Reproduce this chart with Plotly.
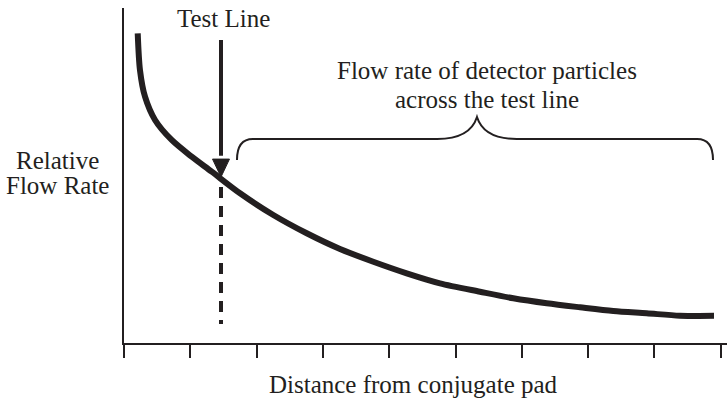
import plotly.graph_objects as go

# ── Données ────────────────────────────────────────────────────────────────────
# distance (unités de graduation) / débit relatif (0-100)
distance = [0.207, 0.241, 0.317, 0.468, 0.719, 1.021, 1.323, 1.750,
            2.252, 2.756, 3.258, 3.760, 4.264, 4.766, 5.370, 5.872, 6.376,
            6.878, 7.380, 7.884, 8.386, 8.899]
flow_rate = [92.45, 81.49, 73.52, 66.57, 60.60, 55.61, 51.13, 44.69,
             38.21, 32.75, 28.06, 24.27, 20.81, 17.82, 15.31, 13.34, 11.85,
             10.66, 9.55, 8.87, 8.15, 8.1]
tick_positions = list(range(10))

TEST_LINE_X = 1.463
ARROW_TOP, ARROW_BASE, ARROW_TIP = 90.45, 54.9, 49.55
DASH_BOTTOM = 5.67

# accolade : x gauche, x centre, x droite / y bas, y haut, y pointe
BRACE_X = [1.704, 5.324, 8.884]
BRACE_Y = [54.63, 60.9, 67.46]

INK = "#231f20"
FONT = "Liberation Serif, Times New Roman, serif"

fig = go.Figure()

# ── Courbe principale ──────────────────────────────────────────────────────────
fig.add_trace(go.Scatter(
    x=distance, y=flow_rate, mode="lines",
    line=dict(color=INK, width=6, shape="spline", smoothing=0.8),
    hoverinfo="skip", showlegend=False,
))

# ── Ligne de test : flèche + pointillés ────────────────────────────────────────
fig.add_shape(type="line", xref="x", yref="y",
              x0=TEST_LINE_X, x1=TEST_LINE_X, y0=ARROW_TOP, y1=ARROW_BASE + 1,
              line=dict(color=INK, width=4))
hw = 0.128
fig.add_shape(type="path", xref="x", yref="y",
              path=(f"M {TEST_LINE_X - hw},{ARROW_BASE} L {TEST_LINE_X + hw},{ARROW_BASE} "
                    f"L {TEST_LINE_X},{ARROW_TIP} Z"),
              fillcolor=INK, line=dict(color=INK, width=1))
fig.add_shape(type="line", xref="x", yref="y",
              x0=TEST_LINE_X, x1=TEST_LINE_X, y0=ARROW_TIP - 3, y1=DASH_BOTTOM,
              line=dict(color=INK, width=4, dash="11px,8px"))

# ── Accolade ───────────────────────────────────────────────────────────────────
xl, xc, xr = BRACE_X
yb, yh, yp = BRACE_Y
brace = (f"M {xl},{yb} Q {xl},{yh} {xl + 0.24},{yh} "
         f"L {xc - 0.60},{yh} Q {xc - 0.105},{yh} {xc},{yp} "
         f"Q {xc + 0.105},{yh} {xc + 0.60},{yh} "
         f"L {xr - 0.24},{yh} Q {xr},{yh} {xr},{yb}")
fig.add_shape(type="path", xref="x", yref="y", path=brace,
              line=dict(color=INK, width=2))

# ── Textes ─────────────────────────────────────────────────────────────────────
def label(text, x, y, xref="x", yref="y"):
    fig.add_annotation(text=text, x=x, y=y, xref=xref, yref=yref,
                       showarrow=False, xanchor="center", yanchor="middle",
                       font=dict(family=FONT, size=25, color=INK))

label("Test Line", 1.50, 97.0)
label("Flow rate of detector particles", 5.475, 81.2)
label("across the test line", 5.475, 72.8)
label("Relative", -0.111, 0.545, xref="paper", yref="paper")
label("Flow Rate", -0.111, 0.470, xref="paper", yref="paper")
label("Distance from conjugate pad", 0.48, -0.125, xref="paper", yref="paper")

# ── Axes et mise en page ───────────────────────────────────────────────────────
fig.update_xaxes(range=[0, 9.095], tickvals=tick_positions, showticklabels=False,
                 ticks="outside", ticklen=13, tickwidth=2, tickcolor=INK,
                 showline=True, linecolor=INK, linewidth=2,
                 showgrid=False, zeroline=False, fixedrange=True)
fig.update_yaxes(range=[0, 100], showticklabels=False, ticks="",
                 showline=True, linecolor=INK, linewidth=2,
                 showgrid=False, zeroline=False, fixedrange=True)
fig.update_layout(
    width=727, height=401,
    margin=dict(l=124, r=0, t=8, b=58),
    paper_bgcolor="white", plot_bgcolor="white",
    showlegend=False,
)

fig.write_html("out.html", post_script="document.body.style.margin='0';",
               config={"displayModeBar": False})
